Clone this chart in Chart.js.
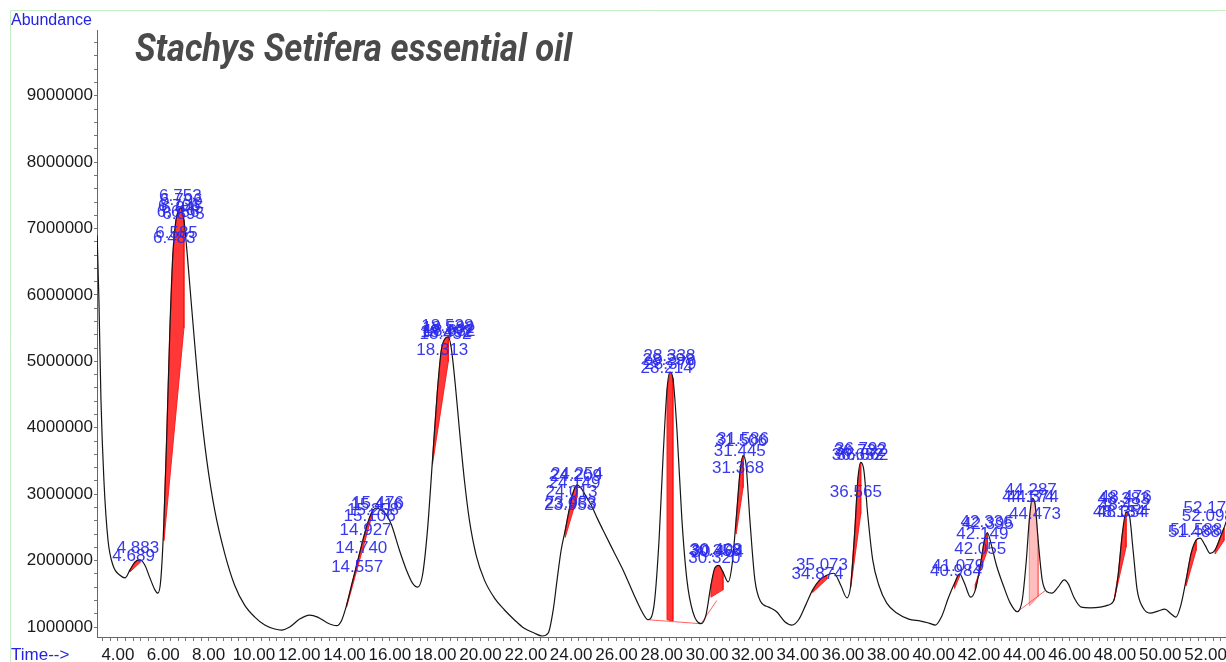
<!DOCTYPE html>
<html>
<head>
<meta charset="utf-8">
<script src="https://cdn.jsdelivr.net/npm/chart.js@4.4.0/dist/chart.umd.min.js"></script>
<style>
html,body{margin:0;padding:0;background:#fff;overflow:hidden;}
canvas{display:block;}
</style>
</head>
<body>
<canvas id="c" width="1270" height="662"></canvas>
<script>
// ---- data ----
const times = [3.08,3.16,3.25,3.38,3.56,3.78,4.09,4.31,4.53,4.75,4.97,5.19,5.41,5.63,5.76,5.89,6.03,6.16,6.29,6.42,6.56,6.69,6.78,6.91,7.04,7.17,7.39,7.61,7.92,8.27,8.71,9.15,9.59,10.04,10.48,10.92,11.22,11.58,12.02,12.46,12.81,13.25,13.65,13.87,14.09,14.31,14.53,14.75,14.97,15.19,15.41,15.63,15.85,16.07,16.42,16.73,17.0,17.22,17.44,17.66,17.88,18.1,18.27,18.45,18.58,18.71,18.89,19.07,19.29,19.51,19.81,20.17,20.61,21.05,21.49,21.93,22.37,22.72,22.99,23.21,23.38,23.56,23.74,23.91,24.09,24.26,24.44,24.67,24.88,25.15,25.45,25.89,26.33,26.78,27.13,27.39,27.66,27.88,28.05,28.23,28.36,28.49,28.67,28.89,29.11,29.37,29.73,29.95,30.17,30.34,30.52,30.7,30.93,31.1,31.28,31.46,31.59,31.72,31.89,32.11,32.37,32.72,33.07,33.43,33.74,34.04,34.35,34.66,34.97,35.28,35.59,35.9,36.17,36.34,36.52,36.65,36.78,36.92,37.09,37.31,37.58,37.93,38.37,38.9,39.43,39.78,40.08,40.34,40.65,40.92,41.14,41.36,41.63,41.84,42.06,42.24,42.37,42.55,42.77,43.07,43.38,43.69,43.91,44.09,44.22,44.35,44.48,44.61,44.79,45.0,45.22,45.49,45.76,45.94,46.2,46.51,46.91,47.35,47.7,47.96,48.14,48.32,48.49,48.63,48.8,48.98,49.24,49.55,49.9,50.2,50.47,50.69,50.91,51.14,51.36,51.58,51.76,51.98,52.2,52.42,52.64,52.81,53.2,53.6,54.0];
const abundance = [6900000,5920000,4420000,3210000,2310000,1930000,1780000,1740000,1860000,1980000,2010000,1930000,1740000,1560000,1510000,1710000,2610000,3970000,5470000,6600000,7130000,7280000,7310000,7130000,6680000,6150000,5250000,4420000,3510000,2760000,2110000,1630000,1330000,1150000,1030000,970000,955000,1000000,1120000,1180000,1150000,1060000,1020000,1100000,1330000,1630000,1930000,2230000,2510000,2720000,2790000,2760000,2690000,2540000,2160000,1860000,1660000,1600000,1780000,2460000,3510000,4570000,5170000,5350000,5370000,5200000,4640000,3970000,3210000,2610000,2080000,1710000,1440000,1260000,1110000,980000,910000,865000,910000,1260000,1710000,2160000,2460000,2760000,3030000,3140000,3090000,2960000,2840000,2640000,2430000,2130000,1830000,1480000,1230000,1110000,1330000,2310000,3510000,4570000,4840000,4750000,3970000,2610000,1710000,1230000,1050000,1180000,1630000,1890000,1930000,1830000,1680000,1930000,2610000,3360000,3580000,3440000,2610000,1710000,1380000,1300000,1230000,1080000,1030000,1110000,1330000,1560000,1710000,1780000,1810000,1630000,1440000,1630000,2460000,3210000,3480000,3360000,2690000,2010000,1630000,1360000,1210000,1120000,1090000,1060000,1030000,1150000,1440000,1660000,1800000,1660000,1450000,1560000,1930000,2310000,2420000,2230000,1930000,1630000,1360000,1230000,1410000,2010000,2610000,2940000,2840000,2310000,1710000,1530000,1510000,1600000,1710000,1650000,1440000,1300000,1290000,1300000,1330000,1410000,1780000,2390000,2730000,2690000,2160000,1560000,1290000,1210000,1240000,1270000,1200000,1150000,1330000,1710000,2110000,2310000,2340000,2230000,2110000,2160000,2340000,2490000,2800000,2650000,2400000];

// integrated peak regions (red)
const redStart     = [4.53, 6.03, 14.09, 17.88, 23.74, 28.23, 30.17, 31.28, 34.66, 36.34, 40.92, 41.84, 44.22, 47.96, 51.14, 52.42];
const redEnd       = [4.97, 6.91, 15.19, 18.58, 24.26, 28.49, 30.7, 31.59, 35.28, 36.78, 41.14, 42.37, 44.61, 48.49, 51.58, 52.81];
const redBaseStart = [1830000,2300000,1300000,3450000,2350000,1110000,1450000,2400000,1520000,1600000,1580000,1650000,1320000,1400000,1620000,2100000];
const redBaseEnd   = [1970000,5500000,2650000,5000000,2950000,1090000,1560000,3100000,1720000,2700000,1760000,2150000,1460000,2200000,2150000,2300000];

// drawn baselines
const baseline1Times = [27.39, 29.73, 30.43];
const baseline1Abund = [1110000, 1050000, 1400000];
const baseline2Times = [43.69, 44.93];
const baseline2Abund = [1230000, 1550000];

// peak labels (retention time text, abundance where drawn)
const peakLabels = ["4.883","4.689","6.753","6.796","6.706","6.845","6.656","6.895","6.585","6.483",
  "15.476","15.416","15.258","15.106","14.927","14.740","14.557",
  "18.538","18.582","18.632","18.492","18.452","18.313",
  "24.254","24.209","24.149","24.013","23.983","23.953",
  "28.338","28.298","28.379","28.214",
  "30.408","30.358","30.464","30.320",
  "31.586","31.506","31.445","31.368",
  "35.073","34.874",
  "36.792","36.732","36.652","36.862","36.565",
  "41.079","40.984",
  "42.336","42.395","42.149","42.055",
  "44.287","44.374","44.174","44.473",
  "48.476","48.383","48.432","48.354","48.184",
  "51.588","51.488",
  "52.176","52.098"];
const peakLabelAbund = [2190000,2070000,7490000,7420000,7340000,7300000,7250000,7220000,6930000,6860000,
  2870000,2840000,2760000,2660000,2450000,2190000,1900000,
  5530000,5500000,5460000,5440000,5410000,5160000,
  3300000,3270000,3170000,3030000,2870000,2840000,
  5070000,5020000,4960000,4890000,
  2160000,2140000,2120000,2040000,
  3830000,3790000,3640000,3390000,
  1930000,1800000,
  3680000,3650000,3590000,3580000,3030000,
  1920000,1840000,
  2570000,2550000,2390000,2170000,
  3060000,2960000,2960000,2700000,
  2960000,2930000,2840000,2730000,2730000,
  2450000,2430000,
  2790000,2670000];

const xTickStep = 1/3;
const yTickStep = 200000;

// ---- chart ----
const PX0 = 97, PXW = 22.69;   // layout reference
const xMin = 3.075;
const canvasW = 1270;
const xMax = xMin + (canvasW - PX0) / PXW;

function regionPolygon(i) {
  const pts = [];
  for (let k = 0; k < times.length; k++) {
    if (times[k] >= redStart[i] - 1e-9 && times[k] <= redEnd[i] + 1e-9) pts.push({x: times[k], y: abundance[k]});
  }
  pts.push({x: redEnd[i], y: redBaseEnd[i]});
  pts.push({x: redStart[i], y: redBaseStart[i]});
  pts.push({x: pts[0].x, y: pts[0].y});
  return pts;
}

const datasets = [];
datasets.push({
  data: times.map((t, i) => ({x: t, y: abundance[i]})),
  borderColor: '#151515', borderWidth: 1.2, pointRadius: 0,
  cubicInterpolationMode: 'monotone', fill: false, order: 0
});
for (let i = 0; i < redStart.length; i++) {
  const pink = i === 12;
  datasets.push({
    data: regionPolygon(i),
    borderColor: pink ? 'rgba(255,90,90,0.6)' : 'rgba(255,20,20,0.9)',
    backgroundColor: pink ? 'rgba(255,110,110,0.45)' : 'rgba(255,20,20,0.85)',
    borderWidth: 1, pointRadius: 0, tension: 0, fill: 'shape', order: 2
  });
}
datasets.push({
  data: baseline1Times.map((t, i) => ({x: t, y: baseline1Abund[i]})),
  borderColor: 'rgba(255,60,60,0.8)', borderWidth: 1, pointRadius: 0, tension: 0, fill: false, order: 1
});
datasets.push({
  data: baseline2Times.map((t, i) => ({x: t, y: baseline2Abund[i]})),
  borderColor: 'rgba(255,60,60,0.8)', borderWidth: 1, pointRadius: 0, tension: 0, fill: false, order: 1
});

const decor = {
  id: 'decor',
  beforeDraw(chart) {
    const ctx = chart.ctx;
    ctx.save();
    ctx.fillStyle = '#fff';
    ctx.fillRect(0, 0, chart.width, chart.height);
    ctx.strokeStyle = '#c4efc4';
    ctx.lineWidth = 1;
    ctx.beginPath();
    ctx.moveTo(10.5, 662); ctx.lineTo(10.5, 10.5); ctx.lineTo(chart.width, 10.5);
    ctx.stroke();
    ctx.restore();
  },
  afterDatasetsDraw(chart) {
    const ctx = chart.ctx;
    const xs = chart.scales.x, ys = chart.scales.y;
    ctx.save();
    ctx.font = '17px "Liberation Sans", Arial, sans-serif';
    ctx.fillStyle = 'rgba(40,40,235,0.92)';
    ctx.textAlign = 'center';
    ctx.textBaseline = 'middle';
    peakLabels.forEach((txt, i) => {
      ctx.fillText(txt, xs.getPixelForValue(parseFloat(txt)), ys.getPixelForValue(peakLabelAbund[i]));
    });
    // axis captions
    ctx.fillStyle = '#2323e6';
    ctx.textAlign = 'left';
    ctx.font = '16px "Liberation Sans", Arial, sans-serif';
    ctx.fillText('Abundance', 11, 21);
    ctx.font = '17px "Liberation Sans", Arial, sans-serif';
    ctx.fillText('Time-->', 11, 655);
    // title
    ctx.fillStyle = '#4a4a4a';
    ctx.textBaseline = 'alphabetic';
    ctx.font = 'italic bold 38px Roboto, sans-serif';
    ctx.fillText('Stachys Setifera essential oil', 135, 61, 437);
    ctx.restore();
  }
};

new Chart(document.getElementById('c'), {
  type: 'line',
  data: {datasets},
  options: {
    responsive: false,
    animation: false,
    events: [],
    layout: {padding: {left: 0, right: 0, top: 30, bottom: 0}},
    plugins: {legend: {display: false}, tooltip: {enabled: false}, title: {display: false}},
    scales: {
      x: {
        type: 'linear', min: xMin, max: xMax,
        afterBuildTicks(s) {
          const t = [];
          for (let k = Math.ceil(s.min / xTickStep); k * xTickStep <= s.max; k++) t.push({value: k * xTickStep});
          s.ticks = t;
        },
        afterFit(s) { s.height = 25; },
        ticks: {
          autoSkip: false, maxRotation: 0, minRotation: 0, padding: 4,
          color: '#1a1a1a', font: {family: '"Liberation Sans", Arial, sans-serif', size: 17},
          callback(v) {
            const r = Math.round(v);
            return (Math.abs(v - r) < 1e-6 && r % 2 === 0) ? r.toFixed(2) : '';
          }
        },
        grid: {drawOnChartArea: false, tickLength: 4, color: '#777', lineWidth: 1},
        border: {color: '#666', width: 1}
      },
      y: {
        type: 'linear', min: 850000, max: 9990000,
        afterBuildTicks(s) {
          const t = [];
          for (let v = 1000000; v <= s.max; v += yTickStep) t.push({value: v});
          s.ticks = t;
        },
        afterFit(s) { s.width = 97; },
        ticks: {
          autoSkip: false, padding: 1,
          color: '#1a1a1a', font: {family: '"Liberation Sans", Arial, sans-serif', size: 17},
          callback(v) { return v % 1000000 === 0 ? String(v) : ''; }
        },
        grid: {drawOnChartArea: false, tickLength: 3, color: '#777', lineWidth: 1},
        border: {color: '#666', width: 1}
      }
    }
  },
  plugins: [decor]
});
</script>
</body>
</html>
